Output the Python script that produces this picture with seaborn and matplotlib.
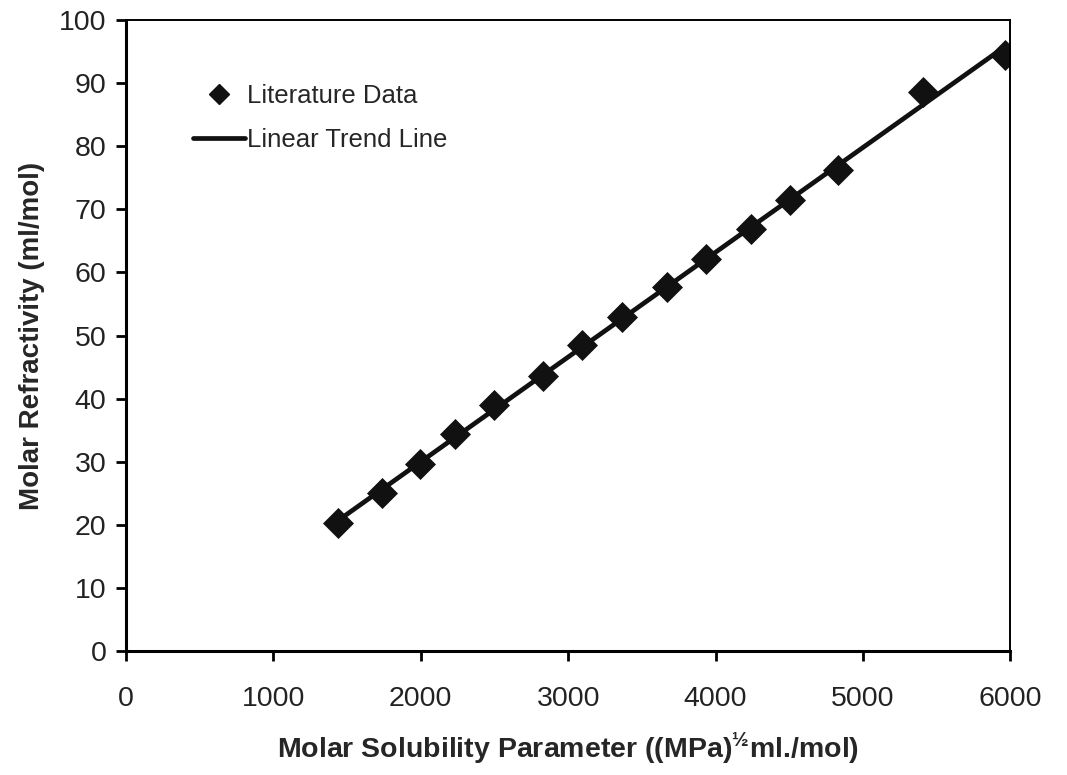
import numpy as np
import pandas as pd
import matplotlib
matplotlib.use("Agg")
import matplotlib.pyplot as plt
from matplotlib.lines import Line2D
import seaborn as sns

# values
solubility = [1440, 1734, 1993, 2233, 2497, 2828, 3095, 3367, 3667, 3932,
              4241, 4503, 4828, 5407, 5964]
refractivity = [20.3, 25.0, 29.6, 34.4, 39.0, 43.6, 48.5, 52.9, 57.7, 62.1,
                66.9, 71.5, 76.2, 88.6, 94.5]
x_ticks = [0, 1000, 2000, 3000, 4000, 5000, 6000]
y_ticks = [0, 10, 20, 30, 40, 50, 60, 70, 80, 90, 100]

df = pd.DataFrame({"sol": solubility, "mr": refractivity})

sns.set_style("ticks")
plt.rcParams['font.family'] = ['Liberation Sans', 'DejaVu Sans']
plt.rcParams['mathtext.fontset'] = 'custom'
plt.rcParams['mathtext.rm'] = 'Liberation Sans'
plt.rcParams['mathtext.bf'] = 'Liberation Sans:bold'

fig = plt.figure(figsize=(10.67, 7.75), dpi=100)
ax = fig.add_axes([0.118, 0.160, 0.829, 0.814])

sns.regplot(data=df, x="sol", y="mr", ax=ax, ci=None,
            marker="D", color="#111111",
            scatter_kws={"s": 250, "linewidths": 0, "alpha": 1, "zorder": 2},
            line_kws={"lw": 3.4, "zorder": 3})

ax.set_xlim(0, 6000)
ax.set_ylim(0, 100)
ax.set_xticks(x_ticks)
ax.set_yticks(y_ticks)
ax.tick_params(axis="both", labelsize=20.5, width=2, length=7, color="black",
               labelcolor="#222222")
ax.tick_params(axis="x", pad=18)
ax.tick_params(axis="y", pad=7)

for side in ["left", "bottom"]:
    ax.spines[side].set_linewidth(2.2)
for side in ["top", "right"]:
    ax.spines[side].set_linewidth(1.4)
for sp in ax.spines.values():
    sp.set_color("black")

ax.set_xlabel(r"Molar Solubility Parameter ((MPa)$^{\mathbf{½}}$ml./mol)",
              fontsize=20.5, fontweight="bold", labelpad=14)
ax.set_ylabel("Molar Refractivity (ml/mol)", fontsize=20, fontweight="bold",
              labelpad=10)

handles = [Line2D([], [], marker="D", ls="none", color="#111111", markersize=10),
           Line2D([], [], color="#111111", lw=3.4)]
ax.legend(handles, ["Literature Data", "Linear Trend Line"], frameon=False,
          loc="upper left", bbox_to_anchor=(0.05, 0.935), fontsize=18.5,
          handlelength=2.0, handletextpad=0.1, labelspacing=0.75)

fig.savefig("out.png", dpi=100)
